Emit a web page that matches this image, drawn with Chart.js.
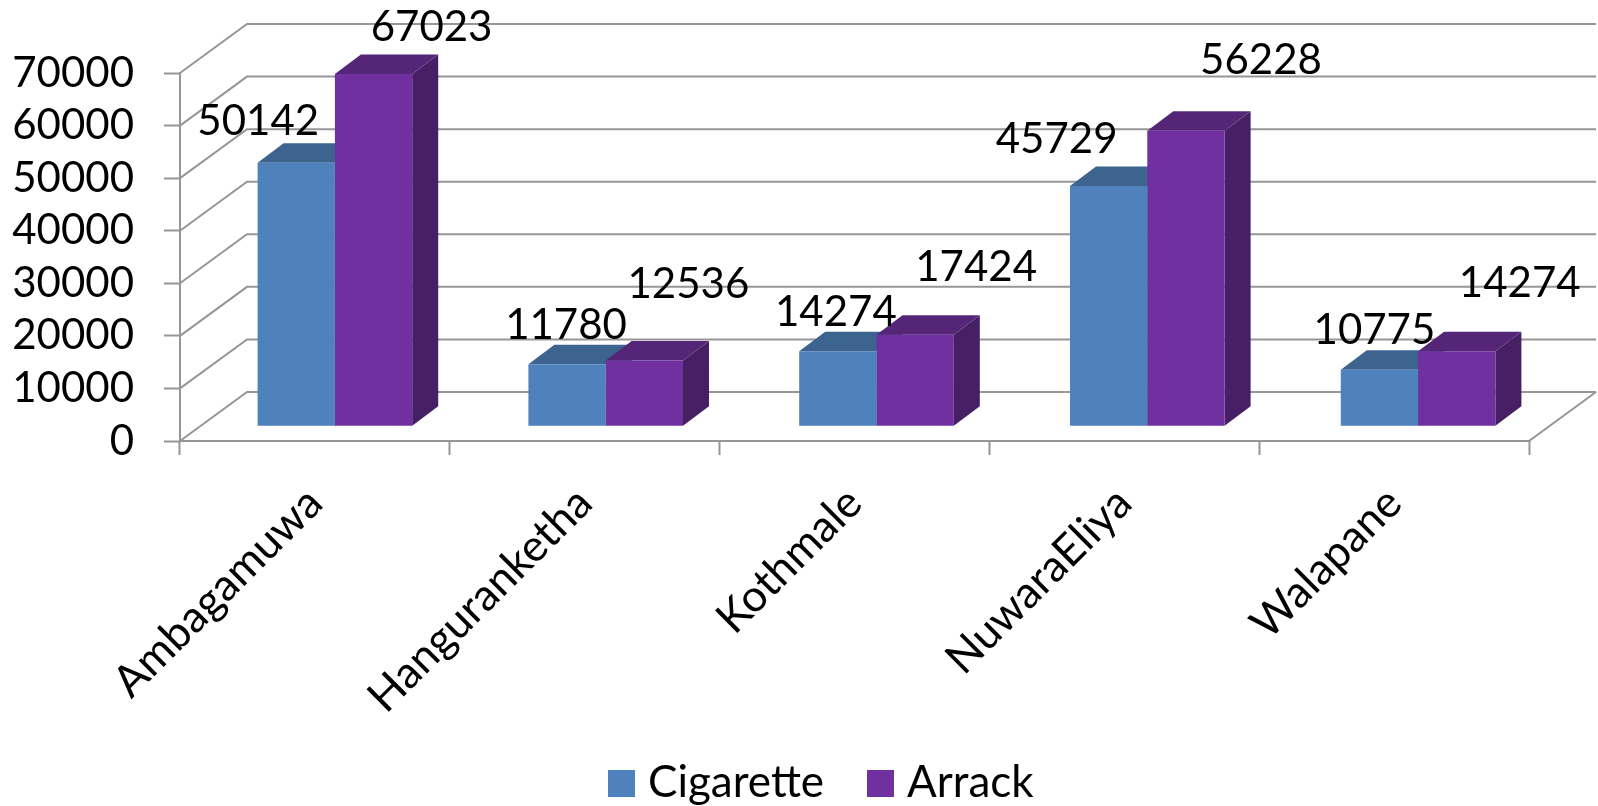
<!DOCTYPE html>
<html>
<head>
<meta charset="utf-8">
<title>Cigarette and Arrack</title>
<script src="https://cdn.jsdelivr.net/npm/chart.js@4"></script>
<style>
  html, body { margin: 0; padding: 0; background: #fff; }
  canvas { display: block; }
</style>
</head>
<body>
<canvas id="chart" width="1598" height="806"></canvas>
<script>
const categories = ["Ambagamuwa", "Hanguranketha", "Kothmale", "NuwaraEliya", "Walapane"];
const cigarette = [50142, 11780, 14274, 45729, 10775];
const arrack = [67023, 12536, 17424, 56228, 14274];
const yTicksMax = 70000;
const yTicksStep = 10000;

// label offsets from the top centre of each bar, the original labels were dragged by hand
const labelOffsets = [
  [[-38, -41], [-1, -39], [-2, -39], [-52, -46], [-5, -39]],
  [[58, -46], [44, -76], [61, -67], [75, -70], [63, -68]],
];

const NUM_FONT = "42px Lato";
const TEXT_FONT = "44px Lato";
const GRID = "#969696";
const WALL = { dx: 67, dy: -49 };   // depth of the floor and side wall
const BAR = { dx: 26, dy: -19.5 };  // depth of one bar
const SHIFT = { x: 20, y: -14.7, stretch: 1.0037 };
const FACES = [
  { front: "#4f81bd", top: "#3d638f", side: "#3d638f" },
  { front: "#7030a0", top: "#552678", side: "#471f64" },
];
const LEGEND = [
  { box: 608, text: 648 },
  { box: 867, text: 907 },
];

function shape(ctx, pts, color) {
  ctx.beginPath();
  pts.forEach((p, i) => i ? ctx.lineTo(p[0], p[1]) : ctx.moveTo(p[0], p[1]));
  ctx.closePath();
  ctx.fillStyle = color;
  ctx.fill();
}

// same transform the bar fronts get, so the 3D faces line up
function moved(chart, x) {
  const x0 = chart.scales.x.getPixelForValue(0);
  return x0 + SHIFT.x + (x - x0) * SHIFT.stretch;
}

const walls = {
  id: "walls",
  beforeDatasetsDraw(chart) {
    const { ctx, scales: { x, y } } = chart;
    ctx.save();
    ctx.strokeStyle = GRID;
    ctx.lineWidth = 2;
    for (let v = 0; v <= yTicksMax; v += yTicksStep) {
      const py = y.getPixelForValue(v);
      ctx.beginPath();
      ctx.moveTo(x.left, py);
      ctx.lineTo(x.left + WALL.dx, py + WALL.dy);
      ctx.lineTo(x.right + WALL.dx, py + WALL.dy);
      ctx.stroke();
    }
    // floor
    const y0 = y.getPixelForValue(0);
    ctx.beginPath();
    ctx.moveTo(x.left, y0);
    ctx.lineTo(x.right, y0);
    ctx.lineTo(x.right + WALL.dx, y0 + WALL.dy);
    ctx.stroke();

    // tops and sides first, fronts come from Chart.js on top of them
    categories.forEach((_, i) => {
      chart.data.datasets.forEach((ds, d) => {
        const bar = chart.getDatasetMeta(d).data[i];
        const half = bar.width / 2 * SHIFT.stretch;
        const l = moved(chart, bar.x) - half;
        const r = moved(chart, bar.x) + half;
        const t = bar.y + SHIFT.y;
        const b = bar.base + SHIFT.y;
        shape(ctx, [[r, t], [r + BAR.dx, t + BAR.dy], [r + BAR.dx, b + BAR.dy], [r, b]], FACES[d].side);
        shape(ctx, [[l, t], [l + BAR.dx, t + BAR.dy], [r + BAR.dx, t + BAR.dy], [r, t]], FACES[d].top);
      });
    });
    ctx.restore();

    ctx.save();
    const x0 = x.getPixelForValue(0);
    ctx.translate(x0 + SHIFT.x, SHIFT.y);
    ctx.scale(SHIFT.stretch, 1);
    ctx.translate(-x0, 0);
  },
  afterDatasetsDraw(chart) {
    const { ctx } = chart;
    ctx.restore();

    ctx.save();
    ctx.font = NUM_FONT;
    ctx.fillStyle = "#000";
    ctx.textAlign = "center";
    ctx.textBaseline = "middle";
    chart.data.datasets.forEach((ds, d) => {
      chart.getDatasetMeta(d).data.forEach((bar, i) => {
        const off = labelOffsets[d][i];
        ctx.fillText(String(ds.data[i]), moved(chart, bar.x) + off[0], bar.y + SHIFT.y + off[1]);
      });
    });

    ctx.font = TEXT_FONT;
    ctx.textAlign = "left";
    ctx.textBaseline = "alphabetic";
    chart.data.datasets.forEach((ds, d) => {
      ctx.fillStyle = FACES[d].front;
      ctx.fillRect(LEGEND[d].box, 770, 27, 27);
      ctx.fillStyle = "#000";
      ctx.fillText(ds.label, LEGEND[d].text, 797);
    });
    ctx.restore();
  },
};

new Chart(document.getElementById("chart").getContext("2d"), {
  type: "bar",
  data: {
    labels: categories,
    datasets: [
      { label: "Cigarette", data: cigarette, backgroundColor: FACES[0].front },
      { label: "Arrack", data: arrack, backgroundColor: FACES[1].front },
    ],
  },
  options: {
    responsive: false,
    animation: false,
    layout: { padding: { top: 73, right: 69 } },
    categoryPercentage: 0.571,
    barPercentage: 1,
    plugins: { legend: { display: false }, tooltip: { enabled: false } },
    scales: {
      x: {
        afterFit(scale) { scale.height = 365; },
        grid: { drawOnChartArea: false, offset: true, tickLength: 14, tickColor: GRID, tickWidth: 2 },
        border: { display: false },
        ticks: { minRotation: 45, maxRotation: 45, padding: 22, color: "#000", font: { family: "Lato", size: 44 } },
      },
      y: {
        min: 0,
        max: yTicksMax,
        afterFit(scale) { scale.width = 180; },
        grid: { drawOnChartArea: false, tickLength: 16, tickColor: GRID, tickWidth: 2 },
        border: { color: GRID, width: 2 },
        ticks: {
          stepSize: yTicksStep,
          autoSkip: false,
          padding: 30,
          color: "#000",
          font: { family: "Lato", size: 42 },
          callback: (v) => String(v),
        },
      },
    },
  },
  plugins: [walls],
});
</script>
</body>
</html>
